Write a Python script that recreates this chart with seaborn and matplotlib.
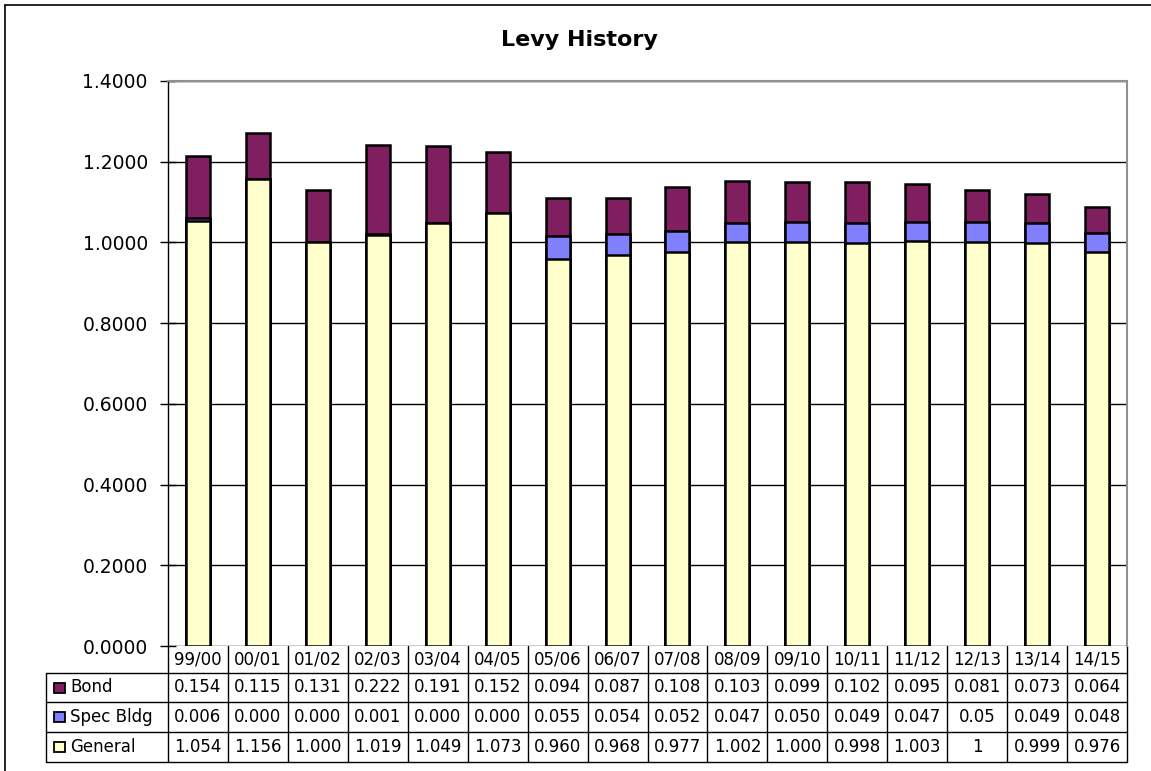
import numpy as np
import pandas as pd
import matplotlib
matplotlib.use('Agg')
import matplotlib.pyplot as plt
import matplotlib.transforms as mtransforms
import seaborn as sns
from matplotlib.patches import Rectangle
from matplotlib.lines import Line2D

# данные (как в таблице под графиком)
seasons = ['99/00', '00/01', '01/02', '02/03', '03/04', '04/05', '05/06', '06/07',
           '07/08', '08/09', '09/10', '10/11', '11/12', '12/13', '13/14', '14/15']
bond_txt = ['0.154', '0.115', '0.131', '0.222', '0.191', '0.152', '0.094', '0.087',
            '0.108', '0.103', '0.099', '0.102', '0.095', '0.081', '0.073', '0.064']
spec_txt = ['0.006', '0.000', '0.000', '0.001', '0.000', '0.000', '0.055', '0.054',
            '0.052', '0.047', '0.050', '0.049', '0.047', '0.05', '0.049', '0.048']
general_txt = ['1.054', '1.156', '1.000', '1.019', '1.049', '1.073', '0.960', '0.968',
               '0.977', '1.002', '1.000', '0.998', '1.003', '1', '0.999', '0.976']
series_names = ['Bond', 'Spec Bldg', 'General']
colors = {'Bond': '#7F1F5F', 'Spec Bldg': '#8080FF', 'General': '#FFFFCC'}

bond = np.array(bond_txt, dtype=float)
spec = np.array(spec_txt, dtype=float)
general = np.array(general_txt, dtype=float)

df = pd.DataFrame({'Season': seasons, 'General': general,
                   'Spec Bldg': spec, 'Bond': bond})
df['lvl_general'] = df['General']
df['lvl_spec'] = df['General'] + df['Spec Bldg']
df['lvl_bond'] = df['lvl_spec'] + df['Bond']

sns.set_style('white')
plt.rcParams['font.family'] = ['DejaVu Sans']
plt.rcParams['text.color'] = 'black'
plt.rcParams['ytick.labelcolor'] = 'black'

fig = plt.figure(figsize=(11.51, 7.71), dpi=100)
W, H = 1151, 771
ax = fig.add_axes([168 / W, 1 - 646 / H, (1127 - 168) / W, (646 - 81) / H])

# стопка столбцов: сначала сумма, потом сверху меньшие уровни
for col, name in [('lvl_bond', 'Bond'), ('lvl_spec', 'Spec Bldg'), ('lvl_general', 'General')]:
    sns.barplot(data=df, x='Season', y=col, order=seasons, color=colors[name],
                width=0.4, edgecolor='black', linewidth=1.8, errorbar=None,
                saturation=1, ax=ax)

ax.set_ylim(0, 1.4)
yt = np.arange(0, 1.41, 0.2)
ax.set_yticks(yt)
ax.set_yticklabels([f'{v:.4f}' for v in yt], fontsize=13.5, color='black')
ax.set_xlim(-0.5, len(seasons) - 0.5)
ax.set_xticks([])
ax.set_xlabel('')
ax.set_ylabel('')
ax.set_axisbelow(True)
ax.yaxis.grid(True, color='black', linewidth=1)
ax.tick_params(axis='y', left=True, direction='inout', length=11, width=1,
               color='black', pad=9)
ax.spines['bottom'].set_visible(False)
ax.spines['left'].set_color('black')
ax.spines['left'].set_linewidth(1)
for s in ['top', 'right']:
    ax.spines[s].set_color('#909090')
    ax.spines[s].set_linewidth(1.5)

fig.text(579 / W, 1 - 40 / H, 'Levy History', fontsize=16, fontweight='bold',
         ha='center', va='center', color='black')

# таблица данных (рисуется линиями и текстом под осью)
tr = mtransforms.blended_transform_factory(ax.transData, ax.transAxes)
axh = 646 - 81
row_px = [646, 673, 702, 732, 762]
row_y = [-(p - 646) / axh for p in row_px]
x_left = -0.5 - 122 / (959 / len(seasons))
x_right = len(seasons) - 0.5

def tline(xs, ys):
    ax.add_line(Line2D(xs, ys, transform=tr, color='black', linewidth=1, clip_on=False))

for k in range(len(seasons) + 1):
    tline([k - 0.5, k - 0.5], [row_y[0], row_y[-1]])
tline([x_left, x_left], [row_y[1], row_y[-1]])
for y in row_y[1:]:
    tline([x_left, x_right], [y, y])

for i, s in enumerate(seasons):
    ax.text(i, (row_y[0] + row_y[1]) / 2, s, transform=tr, ha='center', va='center',
            fontsize=12, color='black')

rows_txt = [bond_txt, spec_txt, general_txt]
for r, (name, vals) in enumerate(zip(series_names, rows_txt)):
    yc = (row_y[r + 1] + row_y[r + 2]) / 2
    for i, v in enumerate(vals):
        ax.text(i, yc, v, transform=tr, ha='center', va='center', fontsize=12,
                color='black')
    ax.text((70 - 168) / 959, yc, name, transform=ax.transAxes, ha='left',
            va='center', fontsize=12, color='black')
    # цветной квадратик легенды
    ax.add_patch(Rectangle(((54 - 168) / 959, yc - 5 / axh), 11 / 959, 10 / axh,
                           facecolor=colors[name], edgecolor='black', linewidth=1.3,
                           transform=ax.transAxes, clip_on=False))

# рамка (видны только верх и левый край)
fig.add_artist(Line2D([5 / W, 1], [1 - 5 / H, 1 - 5 / H], color='black', linewidth=1.2,
                      transform=fig.transFigure))
fig.add_artist(Line2D([5 / W, 5 / W], [0, 1 - 5 / H], color='black', linewidth=1.2,
                      transform=fig.transFigure))

fig.savefig('out.png', dpi=100)
